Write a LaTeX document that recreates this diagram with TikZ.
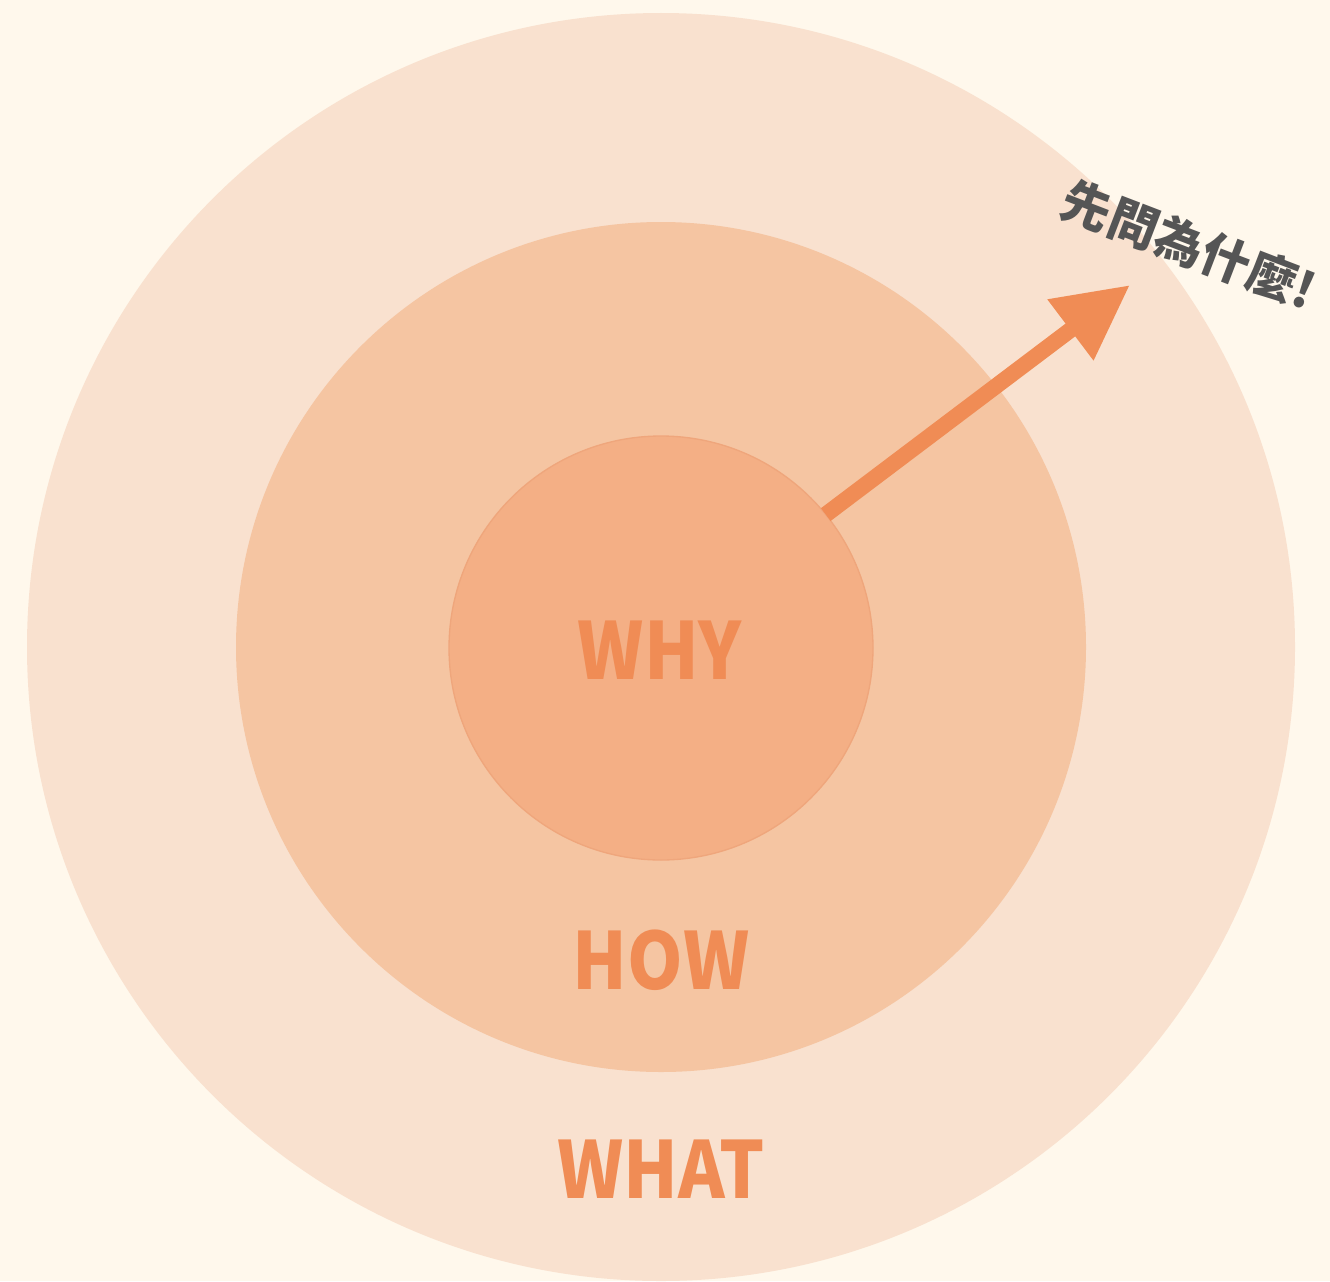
\documentclass[tikz,border=0pt]{standalone}
\usepackage{fontspec}
\setmainfont{Noto Sans CJK TC}
\newfontfamily\cjk{Noto Sans CJK TC}
\usetikzlibrary{arrows.meta}
\definecolor{bgc}{HTML}{FFF8EC}
\definecolor{ringA}{HTML}{F9E1CF}
\definecolor{ringB}{HTML}{F5C5A2}
\definecolor{ringC}{HTML}{F4AF85}
\definecolor{ringCedge}{HTML}{EFA67C}
\definecolor{accent}{HTML}{F08C55}
\definecolor{graytxt}{HTML}{555555}
\newcommand{\narrowtxt}[1]{\scalebox{0.9}[1]{#1}}
\begin{document}
\begin{tikzpicture}[x=0.75pt,y=-0.75pt,
  ring/.style={circle,inner sep=0pt,outer sep=0pt},
  lbl/.style={text=accent,font=\bfseries\fontsize{59}{63}\selectfont,inner sep=0pt},
  pointer/.style={draw=accent,line width=12pt,-{Triangle[length=56pt,width=54pt]}}]
\fill[bgc] (0,0) rectangle (1330,1281);
\useasboundingbox (0,0) rectangle (1330,1281);
\node[ring,fill=ringA,minimum size=951pt] (outer) at (661,647) {};
\node[ring,fill=ringB,minimum size=637.5pt] (middle) at (661,647) {};
\node[ring,fill=ringC,draw=ringCedge,line width=1pt,minimum size=318pt] (inner) at (661,648) {};
\node[lbl] (why) at (660,650) {\narrowtxt{WHY}};
\node[lbl] (how) at (661,960) {\narrowtxt{HOW}};
\node[lbl] (what) at (661,1169) {\narrowtxt{WHAT}};
\coordinate (tip) at (1130,285);
\draw[pointer] (inner.39) -- (tip);
\node[text=graytxt,font=\cjk\bfseries\fontsize{37}{40}\selectfont,rotate=-21,inner sep=0pt] (ask) at (1189,245) {先問為什麼!};
\end{tikzpicture}
\end{document}
